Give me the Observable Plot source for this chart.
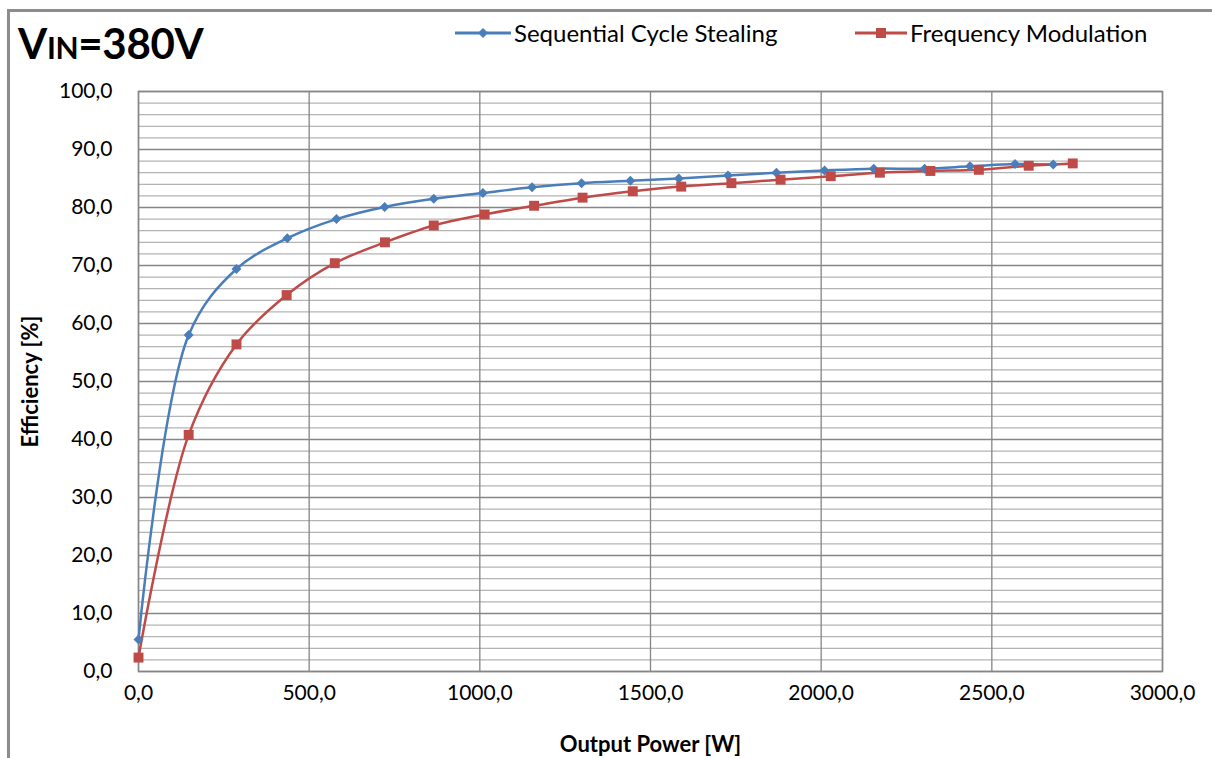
<!DOCTYPE html>
<html>
<head>
<meta charset="utf-8">
<script src="https://cdn.jsdelivr.net/npm/d3@7"></script>
<script src="https://cdn.jsdelivr.net/npm/@observablehq/plot@0.6"></script>
<style>
  body { margin: 0; background: #fff; font-family: Lato, "Open Sans", sans-serif; }
  #wrap { position: relative; width: 1212px; height: 758px; overflow: hidden; }
  #frame { position: absolute; left: 7px; top: 9px; width: 1300px; height: 800px; border-left: 3px solid #8c8c8c; border-top: 3px solid #8c8c8c; }
  #chart { position: absolute; left: 0; top: 0; }
  #title { position: absolute; left: 18px; top: 18px; font-weight: bold; font-size: 42px; color: #000; letter-spacing: -0.3px; }
  #title .sc { font-size: 30px; }
  .leg { position: absolute; top: 18px; font-size: 24px; color: #000; display: flex; align-items: center; }
  .leg svg { margin-right: 3px; }
  g[aria-label="x-axis label"] text, g[aria-label="y-axis label"] text { font-weight: bold; font-size: 22px; }
</style>
</head>
<body>
<div id="wrap">
  <div id="frame"></div>
  <div id="chart"></div>
  <div id="title">V<span class="sc">IN</span>=380V</div>
  <div class="leg" style="left:455px">
    <svg width="56" height="14"><line x1="0" y1="7" x2="56" y2="7" stroke="#4A7EBB" stroke-width="3"/><path d="M28,2 L33,7 L28,12 L23,7 Z" fill="#4A7EBB"/></svg>Sequential Cycle Stealing
  </div>
  <div class="leg" style="left:855px">
    <svg width="52" height="14"><line x1="0" y1="7" x2="52" y2="7" stroke="#BE4B48" stroke-width="3"/><rect x="21" y="2" width="10" height="10" fill="#BE4B48"/></svg>Frequency Modulation
  </div>
</div>
<script>
const seriesNames = ["Sequential Cycle Stealing", "Frequency Modulation"];
const sequentialPower = [0, 147, 287, 436, 580, 721, 865, 1009, 1153, 1298, 1441, 1583, 1727, 1869, 2010, 2154, 2303, 2436, 2568, 2680];
const sequentialEff   = [5.5, 58.0, 69.4, 74.7, 78.0, 80.1, 81.5, 82.5, 83.5, 84.2, 84.6, 85.0, 85.5, 86.0, 86.4, 86.7, 86.7, 87.1, 87.5, 87.4];
const frequencyPower  = [0, 147, 287, 434, 575, 722, 865, 1014, 1159, 1301, 1448, 1590, 1737, 1881, 2028, 2172, 2320, 2462, 2608, 2737];
const frequencyEff    = [2.4, 40.8, 56.4, 64.9, 70.4, 74.0, 76.9, 78.8, 80.3, 81.7, 82.8, 83.6, 84.2, 84.8, 85.4, 86.0, 86.3, 86.5, 87.2, 87.6];
const xTicks = [0, 500, 1000, 1500, 2000, 2500, 3000];
const yTicks = [0, 10, 20, 30, 40, 50, 60, 70, 80, 90, 100];
const yMinor = d3.range(0, 101, 2);

const seq = sequentialPower.map((p, i) => ({power: p, eff: sequentialEff[i]}));
const freq = frequencyPower.map((p, i) => ({power: p, eff: frequencyEff[i]}));
const fmt = d => d3.format(".1f")(d).replace(".", ",");

const chart = Plot.plot({
  width: 1212,
  height: 758,
  marginLeft: 138,
  marginRight: 50,
  marginTop: 91,
  marginBottom: 87,
  style: {fontFamily: "Lato, 'Open Sans', sans-serif", fontSize: "21px", color: "#000", background: "transparent", overflow: "visible"},
  x: {domain: [0, 3000]},
  y: {domain: [0, 100]},
  marks: [
    Plot.ruleY(yMinor.filter(v => v % 10 !== 0), {stroke: "#b4b4b4", strokeWidth: 1.3}),
    Plot.ruleY(yTicks, {stroke: "#868686", strokeWidth: 1.5}),
    Plot.ruleX(xTicks, {stroke: "#868686", strokeWidth: 1.3}),
    Plot.frame({stroke: "#868686", strokeWidth: 1.5}),
    Plot.axisX({ticks: xTicks, tickFormat: fmt, tickSize: 0, tickPadding: 14, label: "Output Power [W]", labelAnchor: "center", labelArrow: "none", labelOffset: 80, fontSize: 21}),
    Plot.axisY({ticks: yTicks, tickFormat: fmt, tickSize: 0, tickPadding: 26, label: "Efficiency [%]", labelAnchor: "center", labelArrow: "none", labelOffset: 116, fontSize: 21}),
    Plot.line(seq, {x: "power", y: "eff", stroke: "#4A7EBB", strokeWidth: 2.5, curve: "catmull-rom"}),
    Plot.line(freq, {x: "power", y: "eff", stroke: "#BE4B48", strokeWidth: 2.5, curve: "catmull-rom"}),
    Plot.dot(seq, {x: "power", y: "eff", symbol: "diamond2", r: 4.5, fill: "#4A7EBB"}),
    Plot.dot(freq, {x: "power", y: "eff", symbol: "square", r: 5.6, fill: "#BE4B48"})
  ]
});
document.getElementById("chart").appendChild(chart);
</script>
</body>
</html>
